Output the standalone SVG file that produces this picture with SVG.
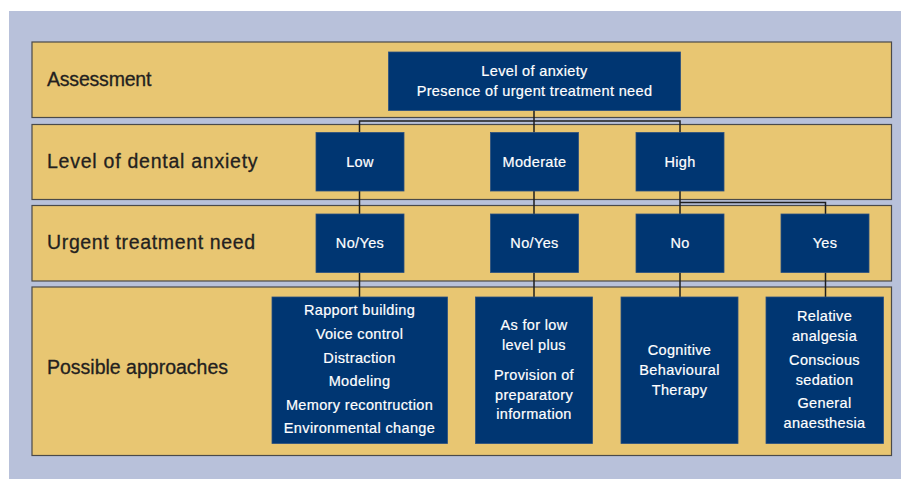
<svg xmlns="http://www.w3.org/2000/svg" width="901" height="479" viewBox="0 0 901 479">
  <style>
    .band { fill: #E8C672; stroke: #4a4a4a; stroke-width: 1.2; }
    .band-label { font-family: "Liberation Sans", Arial, sans-serif; font-size: 19.5px; letter-spacing: 0.75px; fill: #231f20; stroke: #231f20; stroke-width: 0.3; }
    .node { fill: #003672; stroke: #2a4f80; stroke-width: 0.8; }
    .node-text { font-family: "Liberation Sans", Arial, sans-serif; font-size: 14.5px; letter-spacing: 0.35px; fill: #ffffff; stroke: #ffffff; stroke-width: 0.2; text-anchor: middle; }
    .link { fill: none; stroke: #1e1e1e; stroke-width: 1.5; }
  </style>

  <!-- page background -->
  <rect x="0" y="0" width="901" height="479" fill="#ffffff"/>
  <rect x="9" y="11" width="892" height="468" fill="#B8C1DA"/>

  <!-- horizontal bands -->
  <g id="bands">
    <rect class="band" x="32" y="42" width="859.5" height="75.5"/>
    <rect class="band" x="32" y="124.5" width="859.5" height="75"/>
    <rect class="band" x="32" y="205.5" width="859.5" height="75.5"/>
    <rect class="band" x="32" y="287" width="859.5" height="168.5"/>
    <text class="band-label" x="47" y="86" style="letter-spacing:-0.2px">Assessment</text>
    <text class="band-label" x="47" y="167.5">Level of dental anxiety</text>
    <text class="band-label" x="47" y="248.5" style="letter-spacing:0.65px">Urgent treatment need</text>
    <text class="band-label" x="47" y="373.5" style="letter-spacing:0px">Possible approaches</text>
  </g>

  <!-- connectors -->
  <g id="connectors">
    <path class="link" d="M534 110 V132.5"/>
    <path class="link" d="M359.5 132.5 V121 H680 V132.5"/>
    <path class="link" d="M359.5 191 V214"/>
    <path class="link" d="M534 191 V214"/>
    <path class="link" d="M680 191 V214"/>
    <path class="link" d="M680 202.5 H825.5 V214"/>
    <path class="link" d="M359.5 272.5 V297"/>
    <path class="link" d="M534 272.5 V297"/>
    <path class="link" d="M680 272.5 V297"/>
    <path class="link" d="M825.5 272.5 V297"/>
  </g>

  <g id="assessment">
    <rect class="node" x="388.5" y="52" width="292" height="58.5"/>
    <text class="node-text" x="534.5" y="76">Level of anxiety</text>
    <text class="node-text" x="534.5" y="96">Presence of urgent treatment need</text>
  </g>

  <g id="level-low">
    <rect class="node" x="316" y="132.5" width="88" height="58.5"/>
    <text class="node-text" x="360" y="167">Low</text>
  </g>
  <g id="level-moderate">
    <rect class="node" x="490.5" y="132.5" width="88" height="58.5"/>
    <text class="node-text" x="534.5" y="167">Moderate</text>
  </g>
  <g id="level-high">
    <rect class="node" x="636" y="132.5" width="88" height="58.5"/>
    <text class="node-text" x="680" y="167">High</text>
  </g>

  <g id="urgent-low">
    <rect class="node" x="316" y="214" width="88" height="58.5"/>
    <text class="node-text" x="360" y="248">No/Yes</text>
  </g>
  <g id="urgent-moderate">
    <rect class="node" x="490.5" y="214" width="88" height="58.5"/>
    <text class="node-text" x="534.5" y="248">No/Yes</text>
  </g>
  <g id="urgent-high-no">
    <rect class="node" x="636" y="214" width="88" height="58.5"/>
    <text class="node-text" x="680" y="248">No</text>
  </g>
  <g id="urgent-high-yes">
    <rect class="node" x="781" y="214" width="88" height="58.5"/>
    <text class="node-text" x="825" y="248">Yes</text>
  </g>

  <g id="approach-low">
    <rect class="node" x="272" y="297" width="175.5" height="146.5"/>
    <text class="node-text" x="359.5" y="315">Rapport building</text>
    <text class="node-text" x="359.5" y="339">Voice control</text>
    <text class="node-text" x="359.5" y="363">Distraction</text>
    <text class="node-text" x="359.5" y="386">Modeling</text>
    <text class="node-text" x="359.5" y="410">Memory recontruction</text>
    <text class="node-text" x="359.5" y="433">Environmental change</text>
  </g>
  <g id="approach-moderate">
    <rect class="node" x="475.5" y="297" width="117" height="146.5"/>
    <text class="node-text" x="534" y="330">As for low</text>
    <text class="node-text" x="534" y="350">level plus</text>
    <text class="node-text" x="534" y="380">Provision of</text>
    <text class="node-text" x="534" y="400">preparatory</text>
    <text class="node-text" x="534" y="419">information</text>
  </g>
  <g id="approach-high-no">
    <rect class="node" x="621" y="297" width="117" height="146.5"/>
    <text class="node-text" x="679.5" y="355">Cognitive</text>
    <text class="node-text" x="679.5" y="375">Behavioural</text>
    <text class="node-text" x="679.5" y="395">Therapy</text>
  </g>
  <g id="approach-high-yes">
    <rect class="node" x="766" y="297" width="117.5" height="146.5"/>
    <text class="node-text" x="824.5" y="321">Relative</text>
    <text class="node-text" x="824.5" y="341">analgesia</text>
    <text class="node-text" x="824.5" y="365">Conscious</text>
    <text class="node-text" x="824.5" y="385">sedation</text>
    <text class="node-text" x="824.5" y="408">General</text>
    <text class="node-text" x="824.5" y="428">anaesthesia</text>
  </g>
</svg>
